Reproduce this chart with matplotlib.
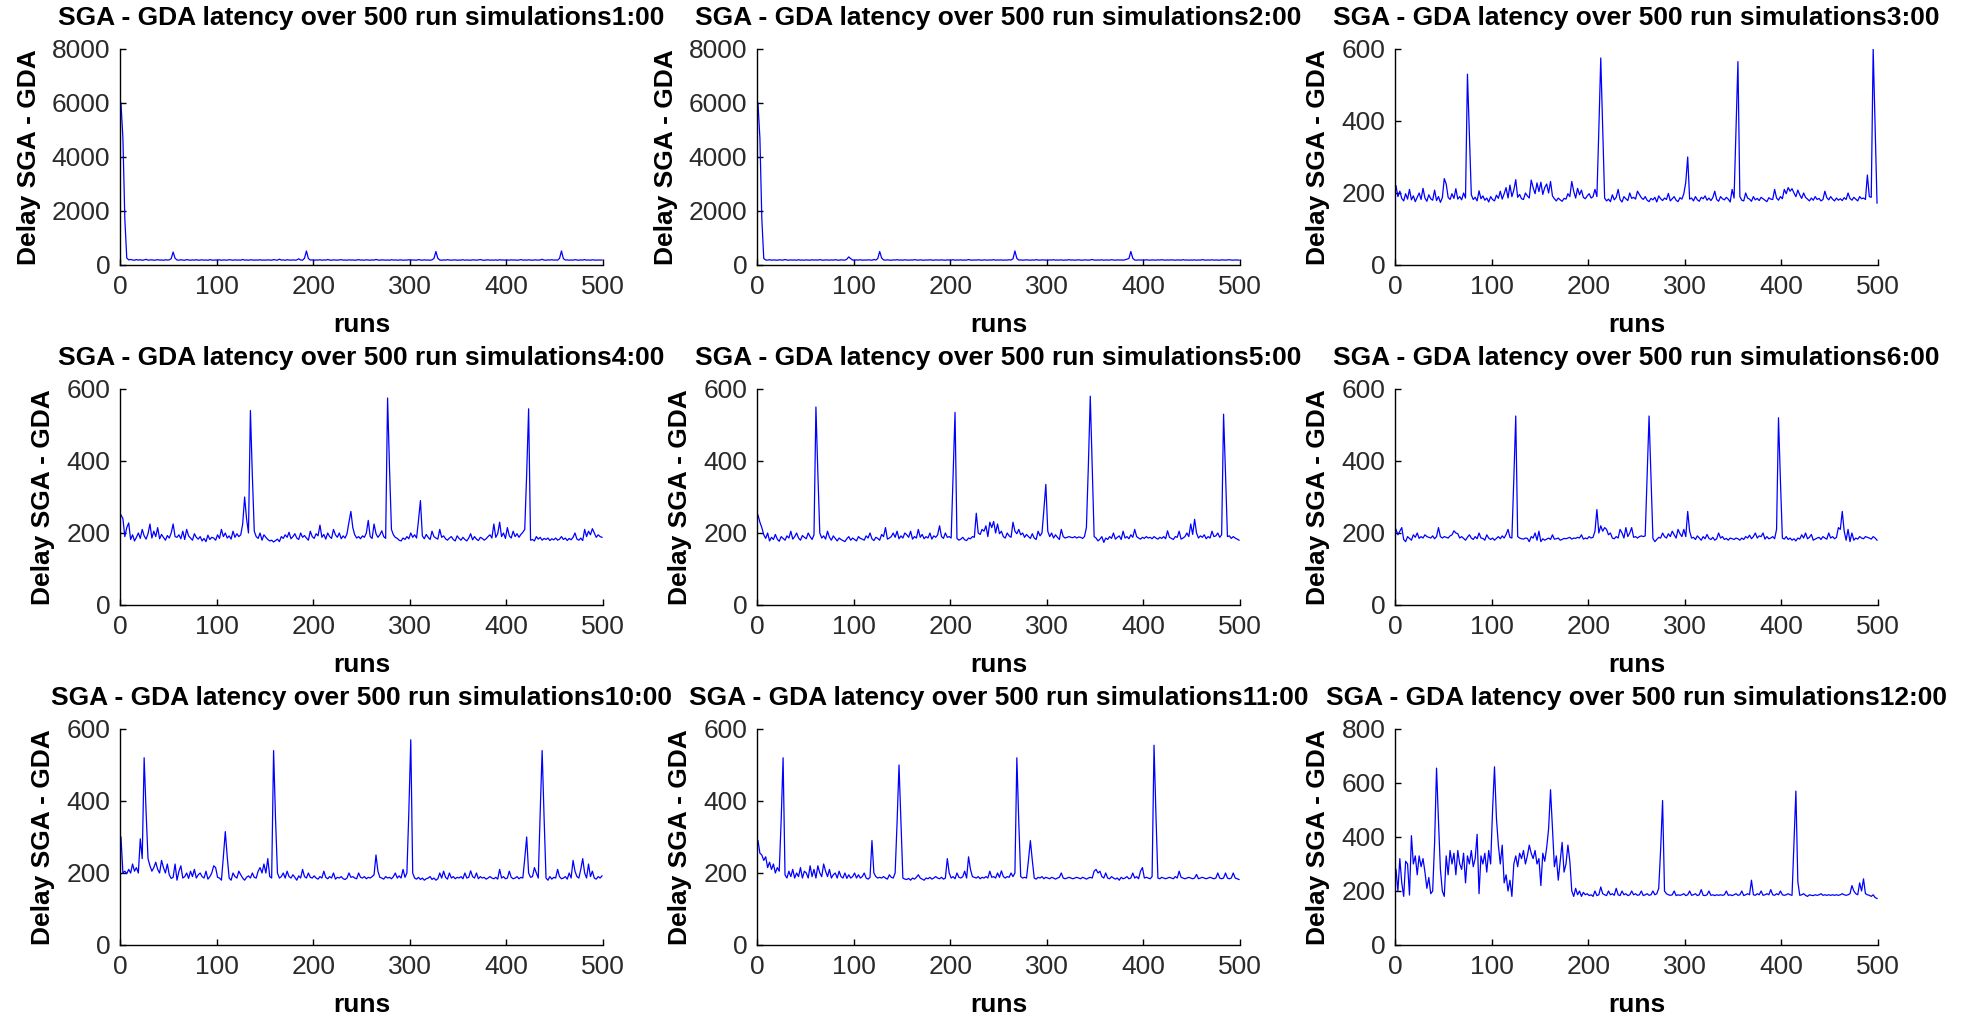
import numpy as np
import matplotlib
matplotlib.use("Agg")
import matplotlib.pyplot as plt

plt.rcParams["font.family"] = ["Liberation Sans", "DejaVu Sans"]

hours = ["1:00", "2:00", "3:00", "4:00", "5:00", "6:00", "10:00", "11:00", "12:00"]
y_max = [8000, 8000, 600, 600, 600, 600, 600, 600, 800]
y_step = [2000, 2000, 200, 200, 200, 200, 200, 200, 200]

# SGA - GDA delay, one value every second run (1, 3, ..., 499)
lat_0100 = [
    6000, 4700, 1700, 260, 190, 205, 185, 178, 200, 182, 195, 176, 188, 210, 180, 186, 192, 177, 184, 198, 181, 187, 175, 193, 183,
    190, 235, 480, 250, 186, 179, 194, 182, 176, 200, 185, 178, 189, 181, 196, 177, 184, 191, 180, 187, 175, 199, 183, 178, 186,
    181, 192, 176, 188, 183, 179, 197, 185, 177, 190, 182, 186, 178, 205, 181, 188, 176, 193, 184, 179, 187, 181, 195, 178, 185,
    180, 191, 183, 177, 200, 186, 179, 215, 182, 188, 176, 194, 184, 180, 190, 178, 187, 230, 185, 179, 250, 520, 240, 183, 189,
    178, 186, 182, 195, 177, 188, 181, 203, 184, 176, 190, 183, 179, 187, 197, 180, 185, 178, 192, 182, 188, 176, 184, 199, 181,
    186, 179, 193, 183, 177, 189, 181, 206, 185, 178, 191, 184, 180, 187, 176, 196, 182, 188, 179, 185, 190, 177, 184, 181, 194,
    180, 187, 183, 178, 201, 185, 179, 190, 182, 186, 176, 193, 240, 500, 250, 184, 178, 188, 181, 197, 183, 179, 186, 190, 177,
    184, 181, 195, 178, 187, 183, 176, 191, 185, 180, 188, 202, 182, 177, 186, 193, 179, 184, 181, 189, 176, 197, 183, 187, 180,
    185, 178, 192, 182, 188, 176, 184, 199, 181, 186, 179, 194, 183, 177, 190, 185, 180, 187, 211, 182, 178, 189, 184, 196, 181,
    187, 179, 245, 520, 235, 183, 190, 178, 186, 181, 195, 184, 177, 188, 182, 200, 180, 186, 179, 192, 183, 178, 187, 181, 185,
]
lat_0200 = [
    6000, 4700, 1700, 240, 186, 181, 196, 179, 188, 183, 177, 192, 185, 180, 203, 184, 178, 190, 182, 187, 176, 195, 181, 186, 179,
    189, 183, 178, 194, 182, 187, 180, 199, 185, 177, 191, 184, 179, 188, 181, 196, 183, 178, 190, 186, 180, 215, 300, 235, 184,
    179, 188, 182, 195, 178, 186, 181, 192, 184, 177, 205, 183, 240, 500, 260, 187, 180, 191, 182, 178, 189, 184, 197, 181, 186,
    180, 193, 183, 178, 188, 182, 199, 185, 179, 190, 184, 177, 187, 181, 195, 183, 178, 189, 186, 180, 192, 182, 177, 188, 184,
    181, 196, 179, 186, 183, 190, 178, 185, 182, 201, 184, 179, 188, 181, 193, 186, 177, 190, 183, 180, 187, 182, 198, 179, 185,
    183, 189, 178, 186, 181, 194, 184, 230, 520, 245, 182, 188, 179, 185, 191, 183, 177, 187, 181, 197, 184, 179, 190, 186, 182,
    178, 188, 184, 195, 180, 186, 182, 191, 177, 185, 183, 199, 181, 188, 179, 186, 193, 182, 178, 190, 184, 180, 187, 204, 183,
    179, 186, 182, 192, 178, 188, 184, 181, 196, 185, 179, 190, 183, 187, 180, 193, 215, 240, 500, 250, 184, 178, 189, 182, 186,
    181, 194, 183, 178, 188, 185, 180, 191, 182, 197, 184, 179, 187, 181, 192, 186, 178, 189, 183, 180, 196, 182, 187, 179, 185,
    183, 190, 178, 186, 181, 199, 184, 180, 188, 182, 193, 179, 186, 183, 178, 191, 185, 181, 187, 196, 182, 179, 188, 184, 180,
]
lat_0300 = [
    220, 190, 205, 185, 178, 198, 183, 210, 181, 192, 176, 188, 200, 182, 213, 186, 177, 195, 184, 180, 208, 179, 190, 174, 187,
    240, 225, 188, 182, 198, 185, 212, 183, 190, 181, 200, 186, 530, 360, 195, 182, 188, 178, 206, 184, 192, 180, 186, 175, 190,
    182, 178, 194, 185, 205, 183, 198, 215, 186, 222, 190, 208, 237, 188, 196, 184, 182, 200, 192, 186, 236, 215, 198, 228, 204,
    230, 196, 215, 225, 200, 232, 192, 184, 178, 186, 181, 177, 185, 183, 198, 190, 232, 205, 186, 213, 195, 208, 188, 184, 192,
    198, 186, 190, 210, 190, 375, 575, 375, 186, 178, 183, 176, 195, 181, 188, 210, 182, 175, 190, 184, 179, 200, 185, 188, 183,
    205, 196, 187, 182, 190, 180, 176, 185, 181, 188, 175, 192, 184, 179, 186, 182, 199, 178, 184, 190, 180, 176, 187, 183, 198,
    230, 300, 183, 186, 178, 190, 181, 177, 188, 184, 192, 180, 186, 179, 187, 205, 182, 177, 190, 184, 181, 188, 183, 175, 210,
    186, 375, 565, 190, 180, 178, 200, 186, 183, 177, 190, 181, 185, 179, 188, 184, 180, 176, 187, 183, 182, 210, 186, 180, 190,
    184, 210, 198, 215, 205, 212, 200, 190, 208, 195, 185, 200, 188, 183, 178, 186, 180, 190, 182, 185, 178, 182, 205, 187, 181,
    190, 183, 178, 186, 180, 184, 179, 187, 182, 200, 185, 180, 188, 183, 178, 190, 184, 186, 182, 250, 190, 188, 600, 385, 172,
]
lat_0400 = [
    250, 240, 190, 215, 228, 182, 195, 178, 188, 200, 185, 210, 192, 183, 198, 225, 186, 205, 190, 215, 184, 196, 188, 180, 193,
    186, 200, 225, 190, 188, 195, 184, 205, 182, 210, 192, 186, 180, 198, 188, 183, 190, 178, 185, 176, 194, 182, 188, 186, 180,
    195, 185, 210, 190, 200, 186, 192, 183, 205, 188, 198, 190, 195, 225, 300, 240, 200, 540, 360, 205, 190, 185, 200, 180, 195,
    188, 182, 178, 180, 175, 179, 183, 176, 190, 185, 195, 188, 202, 184, 190, 198, 186, 182, 200, 188, 193, 186, 180, 205, 190,
    185, 198, 192, 222, 188, 196, 183, 200, 190, 185, 210, 195, 188, 200, 184, 192, 186, 198, 230, 260, 215, 195, 186, 190, 184,
    192, 188, 200, 235, 190, 185, 225, 198, 188, 195, 206, 190, 185, 575, 380, 210, 195, 188, 185, 180, 178, 186, 182, 190, 184,
    200, 188, 195, 186, 235, 290, 192, 184, 196, 188, 182, 205, 190, 186, 183, 210, 188, 192, 184, 180, 186, 190, 182, 178, 192,
    185, 180, 188, 182, 178, 186, 198, 181, 190, 183, 179, 188, 185, 180, 184, 190, 195, 186, 225, 188, 198, 230, 190, 200, 185,
    215, 192, 186, 205, 190, 198, 188, 196, 202, 210, 365, 545, 180, 182, 178, 190, 183, 188, 180, 185, 182, 186, 179, 184, 181,
    186, 180, 183, 190, 182, 186, 179, 185, 181, 188, 200, 183, 180, 186, 179, 210, 190, 205, 195, 212, 200, 188, 195, 190, 188,
]
lat_0500 = [
    250, 230, 215, 195, 185, 200, 178, 188, 182, 196, 183, 177, 190, 185, 180, 192, 186, 205, 183, 190, 200, 186, 180, 193, 188,
    184, 200, 190, 182, 195, 550, 365, 200, 186, 192, 183, 205, 188, 180, 192, 185, 178, 186, 182, 179, 176, 184, 190, 180, 186,
    182, 178, 190, 185, 183, 180, 192, 186, 200, 184, 179, 188, 185, 180, 196, 190, 215, 183, 186, 190, 200, 188, 205, 184, 192,
    186, 200, 195, 188, 205, 183, 190, 186, 210, 188, 196, 184, 190, 186, 200, 183, 192, 188, 195, 220, 190, 185, 200, 188, 190,
    186, 360, 535, 185, 180, 183, 188, 181, 179, 186, 184, 190, 188, 255, 200, 196, 210, 205, 220, 190, 230, 215, 232, 200, 225,
    198, 205, 190, 186, 200, 192, 188, 230, 205, 198, 210, 195, 200, 188, 196, 190, 185, 198, 186, 182, 205, 192, 200, 265, 335,
    205, 190, 200, 186, 195, 188, 182, 210, 190, 186, 188, 190, 188, 187, 190, 186, 189, 188, 185, 190, 215, 385, 580, 385, 190,
    186, 178, 183, 190, 174, 186, 182, 190, 185, 200, 183, 188, 192, 182, 205, 186, 190, 184, 195, 188, 210, 190, 186, 183, 188,
    185, 190, 186, 188, 184, 190, 186, 183, 188, 185, 190, 184, 206, 188, 185, 182, 190, 188, 205, 183, 186, 190, 200, 190, 225,
    196, 238, 200, 186, 192, 188, 195, 184, 190, 186, 205, 190, 192, 200, 188, 195, 530, 365, 190, 192, 185, 190, 186, 183, 180,
]
lat_0600 = [
    210, 195, 205, 215, 182, 176, 190, 185, 180, 195, 188, 200, 185, 190, 186, 195, 190, 188, 186, 192, 184, 190, 215, 190, 186,
    190, 188, 186, 192, 195, 206, 200, 198, 186, 190, 185, 180, 188, 195, 186, 182, 190, 184, 200, 186, 185, 180, 195, 186, 182,
    186, 180, 185, 190, 184, 192, 186, 196, 210, 188, 186, 350, 525, 190, 186, 184, 183, 186, 185, 176, 190, 186, 200, 180, 205,
    176, 184, 180, 183, 186, 182, 195, 183, 184, 186, 180, 182, 185, 184, 186, 188, 183, 186, 185, 188, 186, 195, 183, 186, 184,
    190, 186, 188, 205, 265, 200, 220, 205, 215, 210, 195, 200, 186, 184, 190, 186, 210, 200, 186, 215, 190, 200, 215, 188, 190,
    186, 190, 192, 190, 192, 355, 525, 355, 185, 176, 182, 188, 186, 200, 190, 186, 198, 190, 205, 195, 186, 210, 198, 190, 210,
    190, 260, 205, 186, 188, 182, 192, 186, 180, 190, 184, 196, 185, 182, 188, 180, 184, 200, 186, 190, 182, 185, 180, 186, 184,
    182, 186, 184, 180, 186, 182, 190, 186, 194, 184, 190, 200, 186, 192, 190, 200, 183, 190, 184, 186, 190, 184, 210, 520, 345,
    186, 183, 190, 182, 186, 180, 184, 178, 186, 183, 195, 186, 200, 184, 188, 196, 180, 183, 186, 188, 182, 190, 186, 183, 200,
    186, 190, 184, 188, 215, 210, 260, 205, 180, 210, 176, 200, 180, 186, 183, 190, 186, 184, 190, 188, 186, 183, 190, 186, 180,
]
lat_1000 = [
    300, 200, 205, 198, 210, 200, 225, 205, 215, 200, 295, 240, 520, 370, 240, 220, 205, 215, 230, 210, 200, 235, 215, 200, 225,
    195, 185, 188, 225, 180, 205, 220, 186, 190, 200, 185, 205, 190, 210, 186, 195, 200, 190, 186, 205, 183, 190, 200, 220, 215,
    188, 186, 180, 245, 315, 245, 186, 180, 200, 190, 186, 205, 195, 186, 180, 188, 192, 186, 200, 188, 186, 205, 215, 200, 225,
    200, 240, 190, 186, 540, 350, 200, 186, 190, 200, 186, 205, 190, 186, 195, 188, 180, 192, 186, 210, 190, 186, 200, 188, 186,
    192, 186, 183, 190, 186, 205, 188, 184, 190, 186, 200, 183, 188, 186, 190, 184, 182, 186, 200, 188, 190, 186, 184, 200, 188,
    186, 190, 184, 188, 186, 190, 195, 250, 205, 188, 186, 183, 190, 186, 188, 184, 190, 200, 186, 192, 186, 210, 188, 200, 370,
    570, 200, 186, 183, 188, 182, 186, 180, 184, 186, 190, 182, 186, 180, 184, 200, 186, 205, 188, 183, 200, 186, 190, 184, 188,
    186, 190, 184, 200, 186, 188, 206, 190, 186, 200, 184, 190, 186, 188, 183, 186, 190, 186, 184, 188, 183, 210, 186, 190, 184,
    186, 205, 188, 184, 186, 190, 184, 188, 186, 240, 300, 200, 188, 190, 215, 200, 186, 370, 540, 355, 186, 180, 190, 183, 188,
    186, 210, 190, 184, 186, 190, 183, 200, 186, 235, 205, 190, 186, 210, 240, 200, 186, 225, 190, 205, 186, 183, 190, 186, 192,
]
lat_1100 = [
    290, 255, 250, 235, 245, 215, 230, 210, 225, 200, 215, 205, 345, 520, 195, 186, 205, 190, 210, 186, 200, 190, 215, 186, 205,
    200, 186, 220, 190, 210, 186, 220, 200, 190, 225, 205, 190, 210, 186, 195, 200, 186, 205, 190, 186, 200, 185, 195, 186, 190,
    200, 186, 195, 186, 190, 200, 186, 183, 188, 290, 200, 190, 186, 188, 186, 190, 186, 183, 195, 188, 186, 200, 340, 500, 340,
    186, 183, 182, 185, 180, 186, 183, 188, 195, 186, 183, 180, 186, 184, 188, 183, 186, 190, 186, 184, 188, 183, 186, 240, 200,
    186, 190, 184, 200, 188, 186, 190, 205, 186, 245, 210, 190, 188, 186, 190, 184, 188, 186, 190, 186, 205, 188, 190, 186, 200,
    188, 206, 190, 186, 190, 188, 200, 190, 200, 520, 340, 190, 186, 188, 186, 235, 290, 235, 186, 183, 188, 186, 190, 184, 188,
    186, 184, 188, 186, 183, 186, 188, 200, 186, 184, 186, 188, 186, 184, 186, 188, 186, 184, 188, 186, 183, 186, 188, 186, 205,
    210, 200, 205, 190, 186, 200, 186, 184, 190, 186, 183, 186, 180, 188, 184, 186, 190, 184, 186, 200, 186, 190, 184, 205, 215,
    186, 188, 186, 184, 190, 555, 360, 186, 184, 188, 186, 184, 186, 188, 186, 184, 190, 186, 205, 188, 186, 184, 186, 188, 186,
    184, 186, 196, 184, 186, 188, 186, 184, 186, 188, 186, 184, 186, 200, 186, 184, 186, 200, 186, 184, 186, 200, 186, 184, 182,
]
lat_1200 = [
    280, 200, 320, 230, 180, 310, 300, 185, 405, 300, 330, 260, 330, 290, 320, 270, 210, 250, 190, 200, 380, 655, 460, 280, 200,
    180, 330, 260, 350, 300, 340, 260, 350, 300, 280, 340, 230, 330, 300, 350, 290, 320, 410, 190, 330, 300, 340, 270, 350, 300,
    500, 660, 470, 370, 300, 370, 230, 260, 200, 240, 180, 300, 330, 290, 340, 320, 350, 300, 330, 370, 340, 320, 350, 300, 320,
    220, 340, 310, 360, 430, 575, 430, 290, 330, 240, 310, 380, 270, 300, 370, 310, 200, 180, 210, 186, 200, 180, 195, 186, 190,
    183, 186, 180, 200, 183, 186, 215, 190, 186, 183, 200, 186, 190, 184, 210, 186, 183, 200, 186, 190, 183, 186, 200, 186, 190,
    184, 186, 200, 183, 186, 190, 184, 186, 200, 186, 190, 210, 355, 535, 200, 190, 186, 184, 186, 200, 183, 186, 184, 186, 190,
    183, 186, 200, 184, 186, 190, 183, 186, 205, 184, 183, 186, 200, 184, 186, 183, 186, 184, 186, 184, 186, 200, 184, 186, 183,
    186, 190, 184, 186, 200, 183, 186, 190, 186, 240, 186, 184, 190, 186, 200, 184, 186, 190, 186, 205, 186, 184, 190, 186, 200,
    186, 184, 186, 190, 186, 184, 375, 570, 235, 184, 186, 190, 184, 180, 186, 184, 183, 186, 184, 186, 190, 184, 186, 184, 186,
    184, 186, 184, 186, 184, 186, 190, 186, 184, 186, 190, 220, 200, 190, 186, 230, 200, 245, 190, 186, 184, 180, 186, 176, 172,
]

latencies = [lat_0100, lat_0200, lat_0300, lat_0400, lat_0500, lat_0600,
             lat_1000, lat_1100, lat_1200]

W, H = 1965, 1015
col_left = [120, 757, 1395]
row_top = [49, 389, 729]
ax_w, ax_h = 483, 216

fig = plt.figure(figsize=(W / 100, H / 100), dpi=100)

for k, series in enumerate(latencies):
    r, c = divmod(k, 3)
    ax = fig.add_axes([col_left[c] / W, 1 - (row_top[r] + ax_h) / H, ax_w / W, ax_h / H])
    runs = np.arange(1, 2 * len(series), 2)
    ax.plot(runs, series, color="#0000ff", lw=0.9)

    ax.set_xlim(0, 500)
    ax.set_ylim(0, y_max[k])
    ax.set_xticks(np.arange(0, 501, 100))
    ax.set_yticks(np.arange(0, y_max[k] + 1, y_step[k]))

    for side in ("top", "right"):
        ax.spines[side].set_visible(False)
    for side in ("left", "bottom"):
        ax.spines[side].set_linewidth(1.0)
    ax.tick_params(direction="in", length=4, width=1.0, pad=7,
                   labelsize=19, labelcolor="#2a2a2a")

    ax.set_title("SGA - GDA latency over 500 run simulations" + hours[k],
                 fontsize=19, fontweight="bold", pad=17)
    ax.set_xlabel("runs", fontsize=19, fontweight="bold", labelpad=10)
    ax.set_ylabel("Delay SGA - GDA", fontsize=19, fontweight="bold", labelpad=8)

fig.savefig("out.png", dpi=100)
